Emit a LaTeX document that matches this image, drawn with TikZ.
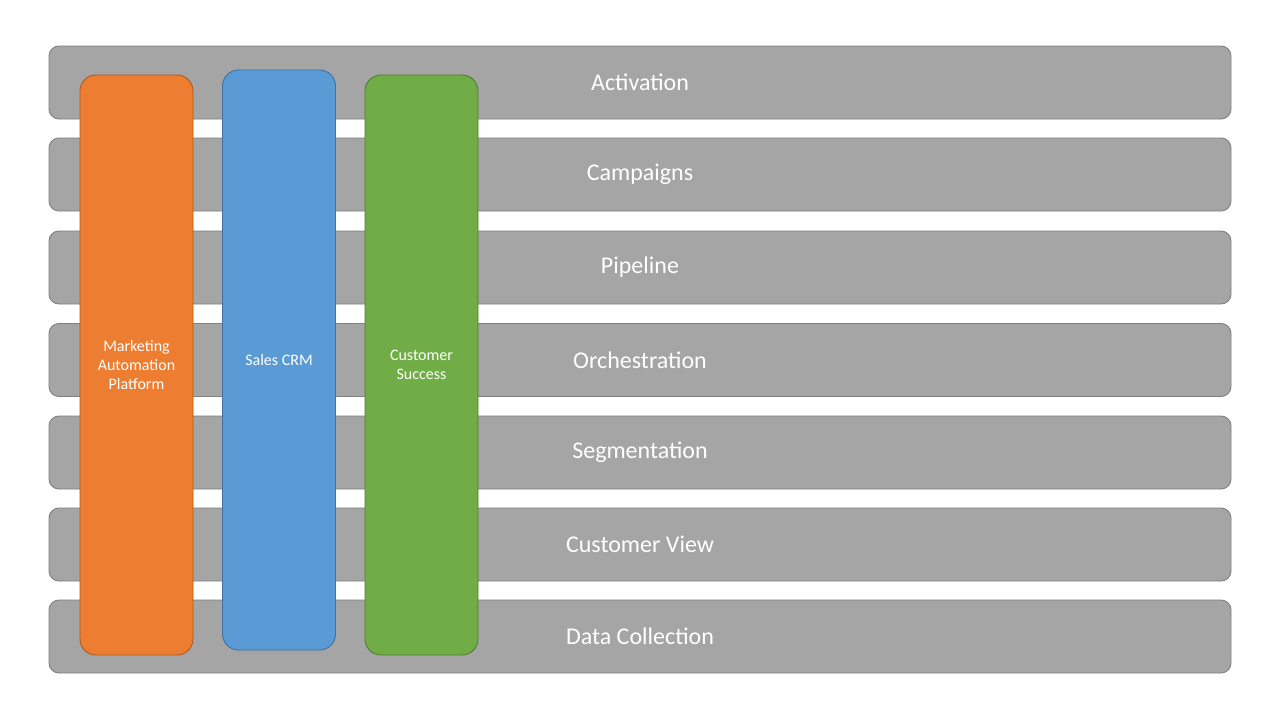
\documentclass[tikz,border=0pt]{standalone}
\usepackage{fontspec}
\setmainfont{Carlito}
\definecolor{barfill}{HTML}{A5A5A5}
\definecolor{barline}{HTML}{7F7F7F}
\definecolor{orfill}{HTML}{ED7D31}
\definecolor{orline}{HTML}{AE5A21}
\definecolor{blfill}{HTML}{5B9BD5}
\definecolor{blline}{HTML}{41719C}
\definecolor{grfill}{HTML}{70AD47}
\definecolor{grline}{HTML}{507E32}
\begin{document}
\begin{tikzpicture}[x=1pt,y=-1pt,
  layerbar/.style={draw=barline,fill=barfill,line width=0.9pt,rounded corners=10pt,
    minimum width=1182pt,minimum height=73pt,inner sep=0pt,
    text=white,font=\fontsize{24}{29}\selectfont},
  colbar/.style={line width=0.9pt,rounded corners=16pt,minimum width=113pt,
    minimum height=580pt,inner sep=0pt,text=white,align=center,
    font=\fontsize{16}{19}\selectfont}]
\useasboundingbox[fill=white] (0,0) rectangle (1280,720);
\node[layerbar] (l1) at (640,82.5) {Activation};
\node[layerbar] (l2) at (640,174.5) {Campaigns};
\node[layerbar] (l3) at (640,267.5) {Pipeline};
\node[layerbar] (l4) at (640,360) {Orchestration};
\node[layerbar] (l5) at (640,452.5) {Segmentation};
\node[layerbar] (l6) at (640,544.5) {Customer View};
\node[layerbar] (l7) at (640,636.5) {Data Collection};
\node[colbar,draw=orline,fill=orfill] (map) at (136.5,365) {Marketing\\Automation\\Platform};
\node[colbar,draw=blline,fill=blfill] (crm) at (279,360) {Sales CRM};
\node[colbar,draw=grline,fill=grfill] (cs) at (421.5,365) {Customer\\Success};
\end{tikzpicture}
\end{document}
